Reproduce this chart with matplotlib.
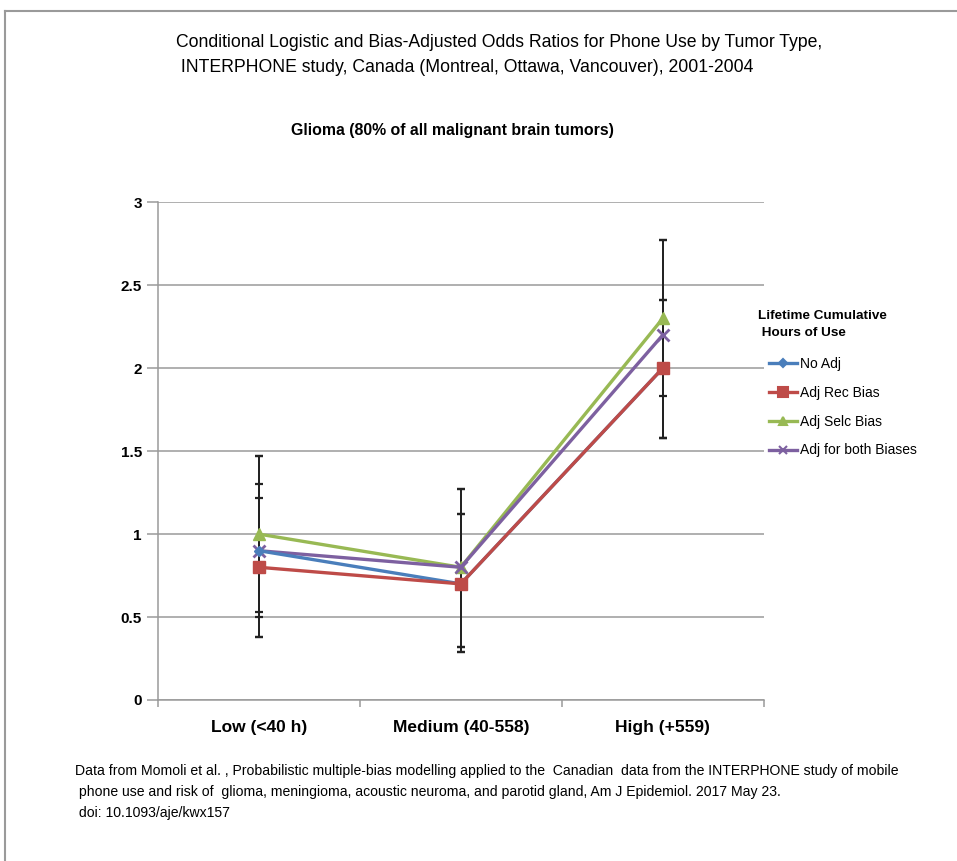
import matplotlib
matplotlib.use("Agg")
import matplotlib.pyplot as plt
from matplotlib.lines import Line2D
import numpy as np

FONT = ["Liberation Sans", "DejaVu Sans"]
plt.rcParams["font.family"] = FONT

categories = ["Low (<40 h)", "Medium (40-558)", "High (+559)"]
series_names = ["No Adj", "Adj Rec Bias", "Adj Selc Bias", "Adj for both Biases"]

no_adj = [0.9, 0.7, 2.0]
no_adj_lo = [0.50, 0.32, 1.58]
no_adj_hi = [1.30, 1.12, 2.41]

adj_rec = [0.8, 0.7, 2.0]
adj_rec_lo = [0.53, 0.32, 1.58]
adj_rec_hi = [1.22, 1.12, 2.41]

adj_selc = [1.0, 0.8, 2.3]
adj_selc_lo = [0.38, 0.29, 1.83]
adj_selc_hi = [1.47, 1.27, 2.77]

adj_both = [0.9, 0.8, 2.2]
adj_both_lo = [0.38, 0.29, 1.58]
adj_both_hi = [1.47, 1.27, 2.77]

yticks = [0, 0.5, 1, 1.5, 2, 2.5, 3]
ytick_labels = ["0", "0.5", "1", "1.5", "2", "2.5", "3"]

colors = ["#4A7EBB", "#BE4B48", "#98B954", "#7D60A0"]
markers = ["D", "s", "^", "x"]
msizes = [5, 9, 8, 8]

fig = plt.figure(figsize=(9.57, 8.61), dpi=100)
ax = fig.add_axes([0.165, 0.187, 0.633, 0.578])

x = np.arange(len(categories))
vals = [no_adj, adj_rec, adj_selc, adj_both]
los = [no_adj_lo, adj_rec_lo, adj_selc_lo, adj_both_lo]
his = [no_adj_hi, adj_rec_hi, adj_selc_hi, adj_both_hi]

# error bars first, beneath the lines
for v, lo, hi in zip(vals, los, his):
    v = np.array(v); lo = np.array(lo); hi = np.array(hi)
    ax.errorbar(x, v, yerr=[v - lo, hi - v], fmt="none", ecolor="#222222",
                elinewidth=1.3, capsize=3, capthick=1.6, zorder=3)

# draw order: green, purple, blue, red on top
order = [2, 3, 0, 1]
for i in order:
    ax.plot(x, vals[i], color=colors[i], lw=2.4, marker=markers[i],
            ms=msizes[i], mew=2 if markers[i] == "x" else 1,
            mec=colors[i], mfc=colors[i], zorder=4 + (i == 1))

ax.set_xlim(-0.5, 2.5)
ax.set_ylim(0, 3)
ax.set_yticks(yticks)
ax.set_yticklabels(ytick_labels, fontweight="bold", fontsize=11,
                   family=FONT)
ax.yaxis.grid(True, color="#9a9a9a", lw=1.1)
ax.set_axisbelow(True)
ax.tick_params(axis="y", length=8, width=1.1, color="#9a9a9a", pad=3.5)

ax.set_xticks(x)
ax.set_xticklabels(categories, fontweight="bold", fontsize=12.5, family=FONT)
ax.set_xticks([-0.5, 0.5, 1.5, 2.5], minor=True)
ax.tick_params(axis="x", which="major", length=0, pad=14.5)
ax.tick_params(axis="x", which="minor", length=5, width=1.1, color="#9a9a9a")

for s in ["top", "right"]:
    ax.spines[s].set_visible(False)
for s in ["left", "bottom"]:
    ax.spines[s].set_color("#9a9a9a")
    ax.spines[s].set_linewidth(1.1)

# legend
handles = [Line2D([0], [0], color=colors[i], lw=2.4, marker=markers[i],
                  ms=msizes[i] * 0.75, mew=1.5, mec=colors[i], mfc=colors[i])
           for i in range(4)]
fig.text(0.792, 0.623, "Lifetime Cumulative\n Hours of Use", fontsize=9.7,
         fontweight="bold", va="center", ha="left", linespacing=1.5)
leg = fig.legend(handles, series_names, loc="upper left",
                 bbox_to_anchor=(0.8035, 0.585), frameon=False,
                 borderpad=0, borderaxespad=0,
                 fontsize=10, handlelength=2.0, handletextpad=0.2,
                 labelspacing=1.06)

# titles
fig.text(0.184, 0.951, "Conditional Logistic and Bias-Adjusted Odds Ratios for Phone Use by Tumor Type,",
         fontsize=12.7, ha="left", va="center")
fig.text(0.184, 0.922, " INTERPHONE study, Canada (Montreal, Ottawa, Vancouver), 2001-2004",
         fontsize=12.7, ha="left", va="center")
fig.text(0.473, 0.849, "Glioma (80% of all malignant brain tumors)",
         fontsize=11.4, fontweight="bold", ha="center", va="center")

# source note
fig.text(0.078, 0.080,
         "Data from Momoli et al. , Probabilistic multiple-bias modelling applied to the  Canadian  data from the INTERPHONE study of mobile\n"
         " phone use and risk of  glioma, meningioma, acoustic neuroma, and parotid gland, Am J Epidemiol. 2017 May 23.\n"
         " doi: 10.1093/aje/kwx157",
         fontsize=10.1, ha="left", va="center", linespacing=1.65)

# page frame
fig.add_artist(Line2D([0.005, 1.0], [0.987, 0.987], transform=fig.transFigure,
                      color="#9a9a9a", lw=1.5))
fig.add_artist(Line2D([0.005, 0.005], [0.0, 0.987], transform=fig.transFigure,
                      color="#9a9a9a", lw=1.5))

fig.savefig("out.png", dpi=100, facecolor="white")
